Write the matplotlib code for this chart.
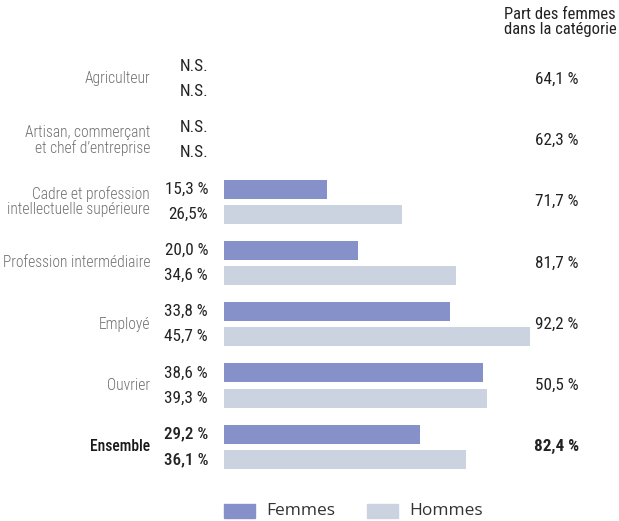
import matplotlib
matplotlib.use("Agg")
import matplotlib.pyplot as plt
from matplotlib.patches import Rectangle

categories = ["Agriculteur", "Artisan, commerçant\net chef d’entreprise",
              "Cadre et profession\nintellectuelle supérieure",
              "Profession intermédiaire", "Employé", "Ouvrier", "Ensemble"]
femmes = [None, None, 15.3, 20.0, 33.8, 38.6, 29.2]
hommes = [None, None, 26.5, 34.6, 45.7, 39.3, 36.1]
femmes_labels = ["N.S.", "N.S.", "15,3 %", "20,0 %", "33,8 %", "38,6 %", "29,2 %"]
hommes_labels = ["N.S.", "N.S.", "26,5%", "34,6 %", "45,7 %", "39,3 %", "36,1 %"]
part_femmes = ["64,1 %", "62,3 %", "71,7 %", "81,7 %", "92,2 %", "50,5 %", "82,4 %"]

C_F = "#8591c8"
C_H = "#cbd3e0"
NARROW = ["Roboto Condensed", "Liberation Sans Narrow", "DejaVu Sans"]

W, H = 619, 521
fig = plt.figure(figsize=(W / 100, H / 100), dpi=100)
ax = fig.add_axes([0, 0, 1, 1])
px_per = 6.7
x0 = 224
ax.set_xlim(-x0 / px_per, (W - x0) / px_per)
py_per = 61.3
y0 = 79
ax.set_ylim((H - y0) / py_per, -y0 / py_per)
ax.axis("off")

def px(xp):
    return (xp - x0) / px_per

off = 0.205
bh = 0.31
for i, cat in enumerate(categories):
    bold = cat == "Ensemble"
    ax.text(px(150), i, cat, ha="right", va="center", fontsize=11.2,
            family=NARROW, fontstretch="condensed",
            color="#1a1a1a" if bold else "#707070",
            fontweight="medium" if bold else "light", linespacing=1.05)
    if femmes[i] is not None:
        ax.barh(i - off, femmes[i], height=bh, color=C_F, left=0)
    if hommes[i] is not None:
        ax.barh(i + off, hommes[i], height=bh, color=C_H, left=0)
    vw = "medium" if bold else "normal"
    ax.text(px(208), i - off, femmes_labels[i], ha="right", va="center",
            fontsize=12.3, family=NARROW, fontstretch="condensed",
            color="#222222", fontweight=vw)
    ax.text(px(208), i + off, hommes_labels[i], ha="right", va="center",
            fontsize=12.3, family=NARROW, fontstretch="condensed",
            color="#222222", fontweight=vw)
    ax.text(px(557), i, part_femmes[i], ha="center", va="center",
            fontsize=12.3, family=NARROW, fontstretch="condensed",
            color="#222222", fontweight="bold" if bold else "normal")

ax.text(px(560), -0.93, "Part des femmes\ndans la catégorie", ha="center",
        va="center", fontsize=12, family=NARROW, fontstretch="condensed",
        color="#222222", linespacing=0.95)

ly = (511 - y0) / py_per
for lx, lab, col in [(224, "Femmes", C_F), (367, "Hommes", C_H)]:
    ax.add_patch(Rectangle((px(lx), ly - 0.12), 31 / px_per, 0.24,
                           color=col, clip_on=False))
    ax.text(px(lx + 42), ly, lab, ha="left", va="center",
            fontsize=12.5, family=["Open Sans", "DejaVu Sans"], color="#333333")

fig.savefig("out.png", dpi=100)
